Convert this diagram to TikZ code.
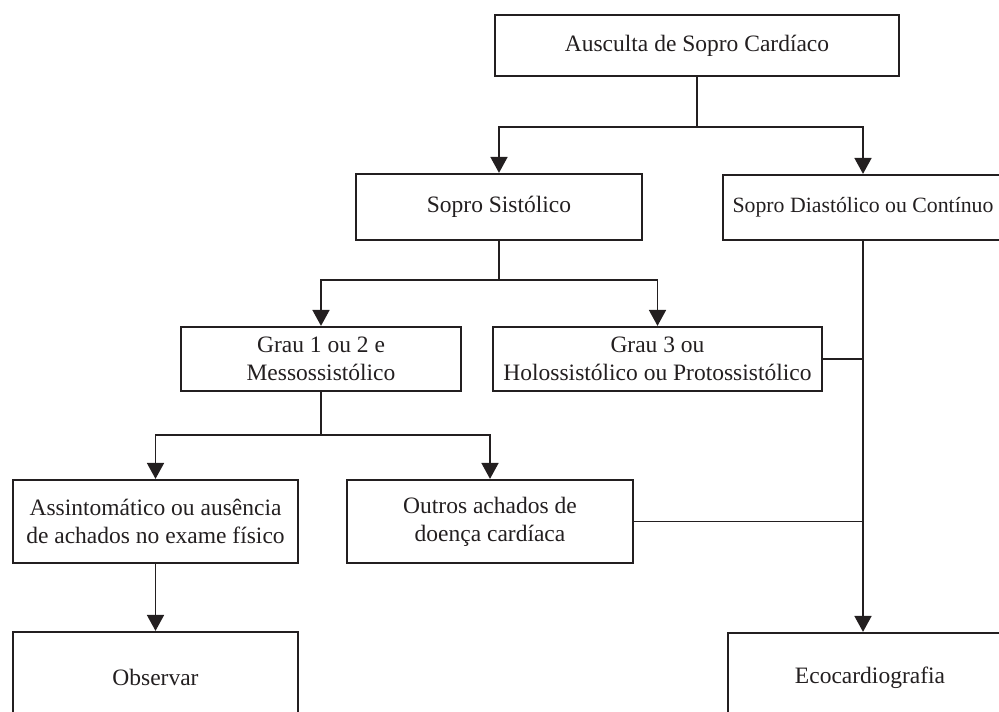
\documentclass[tikz,border=0pt]{standalone}
\usepackage{fontspec}
\setmainfont{Liberation Serif}
\usepackage{tikz}
\usetikzlibrary{arrows.meta, positioning}
\definecolor{ink}{HTML}{231F20}
\tikzstyle{box} = [rectangle, draw=ink, line width=2.2pt, inner sep=0pt, align=center,
                   text=ink, font=\fontsize{23.5}{28}\selectfont]
\tikzstyle{arrow} = [draw=ink, line width=1.8pt, -{Triangle[length=16pt, width=17pt]}]
\tikzstyle{line} = [draw=ink, line width=1.8pt]

\begin{document}
\begin{tikzpicture}[x={(1pt,0pt)}, y={(0pt,-1pt)}, line join=miter]
    % Page (pixel grid, y downwards)
    \useasboundingbox (0,0) rectangle (999,712);
    \clip (0,0) rectangle (999,712);

    % Level 1
    \node[box, minimum width=404pt, minimum height=61pt] (ausculta) at (697,45.5)
      {Ausculta de Sopro Cardíaco};
    % Level 2
    \node[box, minimum width=286pt, minimum height=66pt] (sistolico) at (499,207)
      {Sopro Sistólico};
    \node[box, minimum width=280pt, minimum height=65pt,
          font=\fontsize{21.8}{26}\selectfont] (diastolico) at (863,207.5)
      {Sopro Diastólico ou Contínuo};
    % Level 3
    \node[box, minimum width=280pt, minimum height=64pt] (grau12) at (321,359)
      {Grau 1 ou 2 e\\Messossistólico};
    \node[box, minimum width=329pt, minimum height=64pt] (grau3) at (657.5,359)
      {Grau 3 ou\\Holossistólico ou Protossistólico};
    % Level 4
    \node[box, minimum width=285pt, minimum height=83pt] (assint) at (155.5,521.5)
      {Assintomático ou ausência\\de achados no exame físico};
    \node[box, minimum width=286pt, minimum height=83pt] (outros) at (490,521.5)
      {Outros achados de\\doença cardíaca};
    % Level 5
    \node[box, minimum width=285pt, minimum height=90pt] (observar) at (155.5,677)
      {Observar};
    \node[box, minimum width=284pt, minimum height=90pt] (eco) at (870,678)
      {Ecocardiografia};

    % Split points
    \coordinate (split1) at (ausculta.south |- 0,127);
    \coordinate (split2) at (sistolico.south |- 0,280);
    \coordinate (split3) at (grau12.south |- 0,435);

    % Connectors
    \draw[line] (ausculta.south) -- (split1);
    \draw[arrow] (split1) -| (sistolico.north);
    \draw[arrow] (split1) -| (diastolico.north);

    \draw[line] (sistolico.south) -- (split2);
    \draw[arrow] (split2) -| (grau12.north);
    \draw[arrow] (split2) -| (grau3.north);

    \draw[line] (grau12.south) -- (split3);
    \draw[arrow] (split3) -| (assint.north);
    \draw[arrow] (split3) -| (outros.north);

    \draw[arrow] (assint.south) -- (observar.north);

    \draw[arrow] (diastolico.south) -- (diastolico.south |- eco.north);
    \draw[line] (grau3.east) -- (grau3.east -| diastolico.south);
    \draw[line] (outros.east) -- (outros.east -| diastolico.south);
\end{tikzpicture}
\end{document}
